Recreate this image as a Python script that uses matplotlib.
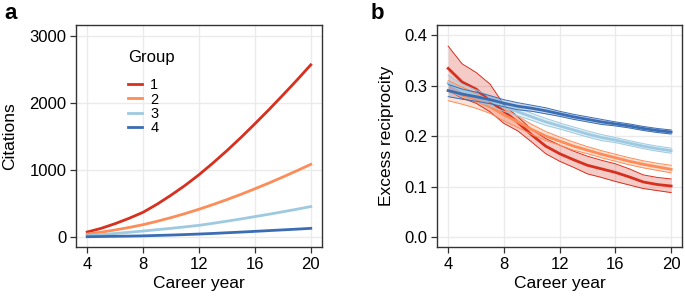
import matplotlib
matplotlib.use("Agg")
import matplotlib.pyplot as plt
import numpy as np

# career years shared by both panels
years = list(range(4, 21))
groups = ["1", "2", "3", "4"]
colors = ["#D7301F", "#FC8D59", "#9ECAE1", "#3B6DB4"]

# panel a: citations per group
cit_1 = [75, 130, 200, 280, 370, 490, 625, 770, 930, 1105, 1290, 1485, 1690, 1900, 2118, 2340, 2570]
cit_2 = [45, 73, 106, 143, 185, 235, 290, 350, 415, 485, 559, 637, 720, 806, 896, 989, 1085]
cit_3 = [20, 36, 53, 71, 90, 110, 130, 152, 175, 205, 237, 270, 305, 340, 377, 415, 455]
cit_4 = [5, 8, 11, 14, 18, 24, 30, 37, 45, 54, 64, 74, 85, 96, 107, 118, 130]

# panel b: excess reciprocity, mean and band
rec_1 = [0.334, 0.307, 0.293, 0.269, 0.249, 0.227, 0.202, 0.180, 0.165, 0.153, 0.142, 0.135, 0.128, 0.119, 0.109, 0.104, 0.101]
rec_1_hi = [0.378, 0.343, 0.326, 0.303, 0.262, 0.238, 0.213, 0.195, 0.182, 0.170, 0.160, 0.152, 0.145, 0.135, 0.123, 0.118, 0.115]
rec_1_lo = [0.290, 0.275, 0.265, 0.248, 0.225, 0.210, 0.188, 0.165, 0.150, 0.138, 0.125, 0.118, 0.110, 0.103, 0.096, 0.092, 0.088]

rec_2 = [0.290, 0.280, 0.270, 0.258, 0.242, 0.228, 0.213, 0.200, 0.190, 0.180, 0.172, 0.164, 0.157, 0.150, 0.144, 0.139, 0.134]
rec_2_hi = [0.310, 0.297, 0.285, 0.271, 0.254, 0.239, 0.223, 0.209, 0.198, 0.188, 0.179, 0.171, 0.164, 0.157, 0.151, 0.146, 0.142]
rec_2_lo = [0.270, 0.263, 0.255, 0.245, 0.230, 0.217, 0.203, 0.191, 0.182, 0.172, 0.165, 0.157, 0.150, 0.143, 0.137, 0.132, 0.127]

rec_3 = [0.305, 0.290, 0.280, 0.270, 0.258, 0.248, 0.238, 0.228, 0.220, 0.212, 0.204, 0.197, 0.192, 0.186, 0.180, 0.175, 0.171]
rec_3_hi = [0.320, 0.303, 0.291, 0.280, 0.267, 0.256, 0.245, 0.235, 0.226, 0.218, 0.210, 0.203, 0.197, 0.191, 0.185, 0.180, 0.176]
rec_3_lo = [0.290, 0.277, 0.269, 0.260, 0.249, 0.240, 0.231, 0.221, 0.214, 0.206, 0.198, 0.191, 0.187, 0.181, 0.175, 0.170, 0.166]

rec_4 = [0.290, 0.283, 0.278, 0.272, 0.265, 0.259, 0.255, 0.250, 0.244, 0.238, 0.233, 0.228, 0.224, 0.220, 0.215, 0.211, 0.208]
rec_4_hi = [0.302, 0.293, 0.287, 0.280, 0.272, 0.266, 0.261, 0.256, 0.249, 0.243, 0.238, 0.233, 0.228, 0.224, 0.219, 0.215, 0.212]
rec_4_lo = [0.278, 0.273, 0.269, 0.264, 0.258, 0.252, 0.249, 0.244, 0.239, 0.233, 0.228, 0.223, 0.220, 0.216, 0.211, 0.207, 0.204]

citations = [cit_1, cit_2, cit_3, cit_4]
recip = [(rec_1, rec_1_lo, rec_1_hi), (rec_2, rec_2_lo, rec_2_hi),
         (rec_3, rec_3_lo, rec_3_hi), (rec_4, rec_4_lo, rec_4_hi)]

plt.rcParams["font.family"] = ["Liberation Sans", "DejaVu Sans"]

fig = plt.figure(figsize=(6.85, 2.97), dpi=100)
ax_a = fig.add_axes([0.111, 0.168, 0.359, 0.748])
ax_b = fig.add_axes([0.638, 0.168, 0.358, 0.748])


def style_axis(ax):
    ax.set_xlim(3.2, 20.8)
    ax.set_xticks([4, 8, 12, 16, 20])
    ax.grid(True, color="#EBEBEB", linewidth=1.0)
    ax.set_axisbelow(True)
    for sp in ax.spines.values():
        sp.set_color("#333333")
        sp.set_linewidth(1.0)
    ax.tick_params(direction="out", length=4.5, width=0.9, color="#333333",
                   labelsize=12, labelcolor="black", pad=2.5)
    ax.set_xlabel("Career year", fontsize=12.5, labelpad=3)


# panel a
for vals, c, g in zip(citations, colors, groups):
    ax_a.plot(years, vals, color=c, linewidth=2, label=g)
style_axis(ax_a)
ax_a.set_ylim(-150, 3165)
ax_a.set_yticks([0, 1000, 2000, 3000])
ax_a.set_ylabel("Citations", fontsize=12.5, labelpad=9)
ax_a.text(0.213, 0.835, "Group", transform=ax_a.transAxes, fontsize=12,
          ha="left", va="baseline")
ax_a.legend(loc="upper left", bbox_to_anchor=(0.213, 0.76),
            frameon=False, fontsize=10.5, borderpad=0, borderaxespad=0,
            handlelength=0.9, handletextpad=0.6, labelspacing=0.02)

# panel b
for (m, lo, hi), c in zip(recip, colors):
    ax_b.fill_between(years, lo, hi, color=c, alpha=0.25, linewidth=0)
    ax_b.plot(years, lo, color=c, linewidth=0.7)
    ax_b.plot(years, hi, color=c, linewidth=0.7)
    ax_b.plot(years, m, color=c, linewidth=2)
style_axis(ax_b)
ax_b.set_ylim(-0.02, 0.42)
ax_b.set_yticks([0.0, 0.1, 0.2, 0.3, 0.4])
ax_b.set_yticklabels(["0.0", "0.1", "0.2", "0.3", "0.4"])
ax_b.set_ylabel("Excess reciprocity", fontsize=12.5, labelpad=7.5)

fig.text(0.006, 0.99, "a", fontsize=16, fontweight="bold", va="top")
fig.text(0.541, 0.99, "b", fontsize=16, fontweight="bold", va="top")

fig.savefig("out.png", dpi=100)
